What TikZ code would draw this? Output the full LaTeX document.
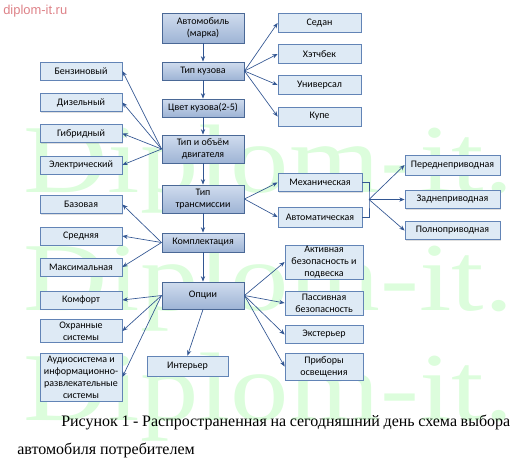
\documentclass[tikz,border=0pt]{standalone}
\usepackage{fontspec}
\setmainfont{Liberation Serif}
\newfontfamily\boxfont{Carlito}
\newfontfamily\markfont{Liberation Sans}
\usetikzlibrary{shadows,arrows.meta}

\definecolor{mainedge}{RGB}{74,104,150}
\definecolor{maintop}{RGB}{208,220,238}
\definecolor{mainbot}{RGB}{158,180,213}
\definecolor{itemedge}{RGB}{98,132,182}
\definecolor{itemfill}{RGB}{222,234,245}
\definecolor{arrowcol}{RGB}{50,86,146}
\definecolor{wmgreen}{RGB}{220,253,220}
\definecolor{wmred}{RGB}{222,130,136}

\tikzset{
  mainbox/.style={draw=mainedge, line width=0.7pt, top color=maintop, bottom color=mainbot,
    minimum width=61.5pt, inner sep=0pt, align=center,
    font=\boxfont\fontsize{7.5}{9}\selectfont},
  itembox/.style={draw=itemedge, line width=0.6pt, fill=itemfill,
    drop shadow={shadow xshift=0.6pt, shadow yshift=-0.6pt, opacity=0.25},
    inner sep=0pt, align=center, font=\boxfont\fontsize{7.5}{9}\selectfont},
  link/.style={->, draw=arrowcol, line width=0.5pt},
  wmtext/.style={anchor=base west, inner sep=0pt, text=wmgreen, font=\fontsize{73}{73}\selectfont, xscale=1.2}
}

\begin{document}
\begin{tikzpicture}[x=0.75pt, y=-0.75pt, >={Stealth[length=4pt, width=3.2pt]}]
    \useasboundingbox (0,0) rectangle (521,458);

        % Watermarks
        \node[anchor=base west, inner sep=0pt, text=wmred, font=\markfont\fontsize{9.7}{10}\selectfont] (site) at (3,14) {diplom-it.ru};
        \node[wmtext] (wm1) at (23,192) {Diplom-it.};
        \node[wmtext] (wm2) at (23,310) {Diplom-it.};
        \node[wmtext] (wm3) at (23,420) {Diplom-it.};

        % Main chain
        \node[mainbox, minimum height=22.5pt] (car) at (203,28) {Автомобиль\\(марка)};
        \node[mainbox, minimum height=13.5pt] (body) at (203,71) {Тип кузова};
        \node[mainbox, minimum height=13.5pt] (colour) at (203,108) {Цвет кузова(2-5)};
        \node[mainbox, minimum height=21pt] (engine) at (203,149) {Тип и объём\\двигателя};
        \node[mainbox, minimum height=21pt] (trans) at (203,199) {Тип\\трансмиссии};
        \node[mainbox, minimum height=14.25pt] (equip) at (203,242.5) {Комплектация};
        \node[mainbox, minimum height=20.25pt] (options) at (203,295.5) {Опции};

        % Body types
        \node[itembox, minimum width=62.25pt, minimum height=14.5pt] (sedan) at (319.5,23) {Седан};
        \node[itembox, minimum width=62.25pt, minimum height=14pt] (hatch) at (319.5,54) {Хэтчбек};
        \node[itembox, minimum width=62.25pt, minimum height=14pt] (wagon) at (319.5,85) {Универсал};
        \node[itembox, minimum width=62.25pt, minimum height=14.25pt] (coupe) at (319.5,116.5) {Купе};

        % Engines
        \node[itembox, minimum width=61.5pt, minimum height=13.5pt] (petrol) at (81,71) {Бензиновый};
        \node[itembox, minimum width=61.5pt, minimum height=14pt] (diesel) at (81,102.5) {Дизельный};
        \node[itembox, minimum width=61.5pt, minimum height=14pt] (hybrid) at (81,133.5) {Гибридный};
        \node[itembox, minimum width=61.5pt, minimum height=13.5pt] (electric) at (81,165) {Электрический};

        % Trims
        \node[itembox, minimum width=61.5pt, minimum height=14pt] (basic) at (81,204.5) {Базовая};
        \node[itembox, minimum width=61.5pt, minimum height=13.5pt] (middle) at (81,236) {Средняя};
        \node[itembox, minimum width=61.5pt, minimum height=13.5pt] (maximal) at (81,267) {Максимальная};

        % Options
        \node[itembox, minimum width=61.5pt, minimum height=13.5pt] (comfort) at (81,300) {Комфорт};
        \node[itembox, minimum width=61.5pt, minimum height=17pt] (security) at (81,331) {Охранные\\системы};
        \node[itembox, minimum width=61.5pt, minimum height=36pt] (audio) at (81,377) {Аудиосистема и\\информационно-\\развлекательные\\системы};
        \node[itembox, minimum width=60.75pt, minimum height=15pt] (interior) at (187.5,366) {Интерьер};
        \node[itembox, minimum width=58.5pt, minimum height=25.5pt] (active) at (324,262) {Активная\\безопасность и\\подвеска};
        \node[itembox, minimum width=58.5pt, minimum height=18pt] (passive) at (324,303) {Пассивная\\безопасность};
        \node[itembox, minimum width=58.5pt, minimum height=13pt] (exterior) at (324,334.5) {Экстерьер};
        \node[itembox, minimum width=58.5pt, minimum height=20.25pt] (lights) at (324,366.5) {Приборы\\освещения};

        % Gearboxes and drives
        \node[itembox, minimum width=63pt, minimum height=14pt] (manual) at (320,182.5) {Механическая};
        \node[itembox, minimum width=63pt, minimum height=15pt] (auto) at (320,217) {Автоматическая};
        \coordinate (split) at (369,199.5);
        \node[itembox, minimum width=71.25pt, minimum height=15pt] (front) at (452.5,165) {Переднеприводная};
        \node[itembox, minimum width=71.25pt, minimum height=14pt] (rear) at (452.5,199.5) {Заднеприводная};
        \node[itembox, minimum width=71.25pt, minimum height=14pt] (awd) at (452.5,230.5) {Полноприводная};

        % Connections
        \draw[link] (car) -- (body);
        \draw[link] (body) -- (colour);
        \draw[link] (colour) -- (engine);
        \draw[link] (engine) -- (trans);
        \draw[link] (trans) -- (equip);
        \draw[link] (equip) -- (options);

        \draw[link] (body.east) -- (sedan.west);
        \draw[link] (body.east) -- (hatch.west);
        \draw[link] (body.east) -- (wagon.west);
        \draw[link] (body.east) -- (coupe.west);

        \draw[link] (engine.west) -- (petrol.east);
        \draw[link] (engine.west) -- (diesel.east);
        \draw[link] (engine.west) -- (hybrid.east);
        \draw[link] (engine.west) -- (electric.east);

        \draw[link] (trans.east) -- (manual.west);
        \draw[link] (trans.east) -- (auto.west);
        \draw[draw=arrowcol, line width=0.5pt] (manual.east) -| (split) |- (auto.east);
        \draw[link] (split) -- (front.west);
        \draw[link] (split) -- (rear.west);
        \draw[link] (split) -- (awd.west);

        \draw[link] (equip.west) -- (basic.east);
        \draw[link] (equip.west) -- (middle.east);
        \draw[link] (equip.west) -- (maximal.east);

        \draw[link] (options.west) -- (comfort.east);
        \draw[link] (options.west) -- (security.east);
        \draw[link] (options.west) -- (audio.east);
        \draw[link] (options.south) -- (interior.north);
        \draw[link] (options.east) -- (active.west);
        \draw[link] (options.east) -- (passive.west);
        \draw[link] (options.east) -- (exterior.west);
        \draw[link] (options.east) -- (lights.west);

        % Caption
        \node[anchor=base west, inner sep=0pt, font=\fontsize{12}{14}\selectfont] (cap1) at (61,426) {\makebox[336.75pt][s]{Рисунок 1 - Распространенная на сегодняшний день схема выбора}};
        \node[anchor=base west, inner sep=0pt, font=\fontsize{12}{14}\selectfont] (cap2) at (17,454) {автомобиля потребителем};

    \end{tikzpicture}
\end{document}
